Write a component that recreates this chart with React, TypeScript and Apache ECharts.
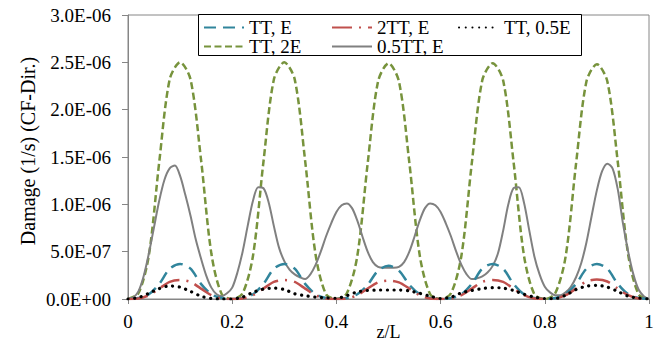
import React, { useEffect, useRef } from "react";
import * as echarts from "echarts";

// x sample positions
const xCoarse: number[] = Array.from({ length: 51 }, (_, i) => +(i * 0.02).toFixed(2));
const xFine: number[] = Array.from({ length: 101 }, (_, i) => +(i * 0.01).toFixed(2));

// values in units of 1e-7 (1/s)
const ttE: number[] = [
  0, 0.1, 0.5, 1.6, 3.2, 3.7, 3.2, 1.6, 0.5, 0.1,
  0, 0.1, 0.5, 1.6, 3.2, 3.7, 3.2, 1.6, 0.5, 0.1,
  0, 0.1, 0.5, 1.5, 3.0, 3.5, 3.0, 1.5, 0.5, 0.1,
  0, 0.1, 0.5, 1.6, 3.2, 3.7, 3.2, 1.6, 0.5, 0.1,
  0, 0.1, 0.5, 1.6, 3.2, 3.7, 3.2, 1.6, 0.5, 0.1, 0,
];
const tt2E_2TT: number[] = [
  0, 0.05, 0.4, 1.1, 1.8, 2.0, 1.8, 1.1, 0.4, 0.05,
  0, 0.05, 0.4, 1.1, 1.8, 2.0, 1.8, 1.1, 0.4, 0.05,
  0, 0.05, 0.4, 1.1, 1.75, 1.95, 1.75, 1.1, 0.4, 0.05,
  0, 0.05, 0.4, 1.1, 1.8, 2.0, 1.8, 1.1, 0.4, 0.05,
  0, 0.05, 0.4, 1.1, 1.85, 2.05, 1.85, 1.1, 0.4, 0.05, 0,
];
const tt05E: number[] = [
  0, 0.15, 0.6, 1.1, 1.38, 1.25, 0.8, 0.3, 0.05, 0,
  0, 0.2, 0.7, 1.05, 1.15, 1.0, 0.55, 0.35, 0.2, 0.12,
  0.08, 0.35, 0.75, 0.9, 0.95, 0.95, 0.95, 0.85, 0.6, 0.3,
  0.05, 0.2, 0.65, 0.9, 1.1, 1.2, 1.15, 0.9, 0.5, 0.2,
  0.05, 0.05, 0.4, 1.0, 1.35, 1.45, 1.25, 0.8, 0.3, 0.1, 0,
];
const tt2E: number[] = [
  0, 0.6, 4.6, 14.5, 23.2, 25.0, 23.2, 14.8, 4.8, 0.5,
  0, 0.6, 4.6, 14.5, 23.2, 25.0, 23.2, 14.6, 4.7, 0.5,
  0, 0.6, 4.5, 14.3, 23.0, 24.9, 23.0, 14.4, 4.6, 0.5,
  0, 0.6, 4.6, 14.4, 23.1, 24.9, 23.1, 14.5, 4.6, 0.5,
  0, 0.6, 4.5, 14.3, 23.0, 24.8, 23.0, 14.5, 4.7, 0.5, 0,
];
// 0.5TT, E sampled every 0.01
const tt05_E: number[] = [
  0, 0.15, 0.8, 2.4, 4.8, 7.6, 10.4, 12.6, 13.8, 14.1,
  13.0, 11.0, 8.8, 6.3, 4.3, 2.5, 1.2, 0.5, 0.3, 0.6,
  1.2, 2.8, 5.0, 7.8, 10.4, 11.8, 11.7, 10.2, 7.7, 5.4,
  4.0, 3.1, 2.6, 2.3, 2.1, 2.6, 3.6, 5.0, 6.6, 8.0,
  9.2, 9.9, 10.1, 9.6, 8.3, 6.6, 5.0, 3.9, 3.4, 3.3,
  3.3, 3.3, 3.4, 3.9, 5.0, 6.6, 8.3, 9.6, 10.1, 9.9,
  9.2, 8.0, 6.6, 5.0, 3.6, 2.6, 2.1, 2.2, 2.4, 2.8,
  3.5, 4.8, 7.2, 10.0, 11.7, 11.8, 10.2, 7.3, 4.5, 2.6,
  1.3, 0.7, 0.4, 0.4, 0.7, 1.3, 2.3, 3.8, 6.0, 8.8,
  11.5, 13.5, 14.3, 13.8, 11.6, 8.0, 5.0, 2.6, 1.0, 0.3, 0,
];

const seriesNames = ["TT, E", "2TT, E", "TT, 0.5E", "TT, 2E", "0.5TT, E"];
const xTickLabels = ["0", "0.2", "0.4", "0.6", "0.8", "1"];
const yTickLabels = ["0.0E+00", "5.0E-07", "1.0E-06", "1.5E-06", "2.0E-06", "2.5E-06", "3.0E-06"];

const SCALE = 1e-7;
const FONT = "Liberation Serif";

function pairs(xs: number[], ys: number[]) {
  return ys.map((y, i) => [xs[i], y * SCALE]);
}

export default function App() {
  const ref = useRef<HTMLDivElement>(null);
  useEffect(() => {
    if (!ref.current) return;
    const chart = echarts.init(ref.current, null, { renderer: "svg" });
    const base = { type: "line", symbol: "none", showSymbol: false, smooth: 0.3 };
    const legendPos = [
      { left: 203, top: 18 },
      { left: 331, top: 18 },
      { left: 458, top: 18 },
      { left: 203, top: 37 },
      { left: 331, top: 37 },
    ];
    chart.setOption({
      animation: false,
      backgroundColor: "#ffffff",
      textStyle: { fontFamily: FONT, color: "#000000" },
      grid: {
        left: 128,
        right: 15,
        top: 15,
        bottom: 43,
        show: true,
        borderColor: "#868686",
        borderWidth: 1,
        outerBoundsMode: "none",
      },
      legend: seriesNames.map((n, i) => ({
        data: [n],
        left: legendPos[i].left,
        top: legendPos[i].top,
        padding: 0,
        itemWidth: 40,
        itemHeight: 14,
        z: 10,
        itemStyle: { color: "rgba(0,0,0,0)", borderColor: "rgba(0,0,0,0)", borderWidth: 0, opacity: 0 },
        textStyle: { fontFamily: FONT, fontSize: 19, color: "#000" },
      })),
      graphic: [
        {
          type: "rect",
          z: 9,
          shape: { x: 198.5, y: 14.5, width: 383, height: 41 },
          style: { fill: "#ffffff", stroke: "#000000", lineWidth: 1 },
        },
      ],
      xAxis: {
        type: "value",
        min: 0,
        max: 1,
        interval: 0.2,
        name: "z/L",
        nameLocation: "middle",
        nameGap: 24,
        nameMoveOverlap: false,
        nameTextStyle: { fontFamily: FONT, fontSize: 18, color: "#000" },
        axisLine: { show: true, lineStyle: { color: "#868686", width: 1 } },
        axisTick: { show: true, inside: false, length: 5, lineStyle: { color: "#868686" } },
        splitLine: { show: false },
        axisLabel: {
          fontFamily: FONT,
          fontSize: 19,
          color: "#000",
          margin: 13,
          formatter: (v: number) => xTickLabels[Math.round(v / 0.2)] ?? "",
        },
      },
      yAxis: {
        type: "value",
        min: 0,
        max: 3e-6,
        interval: 5e-7,
        name: "Damage (1/s) (CF-Dir.)",
        nameLocation: "middle",
        nameGap: 90,
        nameMoveOverlap: false,
        nameTextStyle: { fontFamily: FONT, fontSize: 20, color: "#000", padding: [0, 0, 0, 12] },
        axisLine: { show: true, lineStyle: { color: "#868686", width: 1 } },
        axisTick: { show: true, inside: false, length: 6, lineStyle: { color: "#868686" } },
        splitLine: { show: false },
        axisLabel: {
          fontFamily: FONT,
          fontSize: 19,
          color: "#000",
          margin: 17,
          formatter: (v: number) => yTickLabels[Math.round(v / 5e-7)] ?? "",
        },
      },
      series: [
        {
          ...base,
          name: seriesNames[0],
          data: pairs(xCoarse, ttE),
          z: 3,
          itemStyle: { color: "#31859C" },
          lineStyle: { color: "#31859C", width: 2.5, type: [12, 7] },
        },
        {
          ...base,
          name: seriesNames[1],
          data: pairs(xCoarse, tt2E_2TT),
          z: 4,
          itemStyle: { color: "#C0504D" },
          lineStyle: { color: "#C0504D", width: 2.5, type: [20, 7, 2, 7] },
        },
        {
          ...base,
          name: seriesNames[2],
          data: pairs(xCoarse, tt05E),
          z: 5,
          itemStyle: { color: "#000000" },
          lineStyle: { color: "#000000", width: 3.2, type: [0.1, 6.6], cap: "round" },
        },
        {
          ...base,
          name: seriesNames[3],
          data: pairs(xCoarse, tt2E),
          z: 2,
          itemStyle: { color: "#77933C" },
          lineStyle: { color: "#77933C", width: 2.5, type: [7, 3.5] },
        },
        {
          ...base,
          name: seriesNames[4],
          data: pairs(xFine, tt05_E),
          z: 2,
          itemStyle: { color: "#808080" },
          lineStyle: { color: "#808080", width: 2 },
        },
      ],
    });
    return () => chart.dispose();
  }, []);
  return <div ref={ref} style={{ width: 664, height: 342, position: "absolute", left: 0, top: 0 }} />;
}
